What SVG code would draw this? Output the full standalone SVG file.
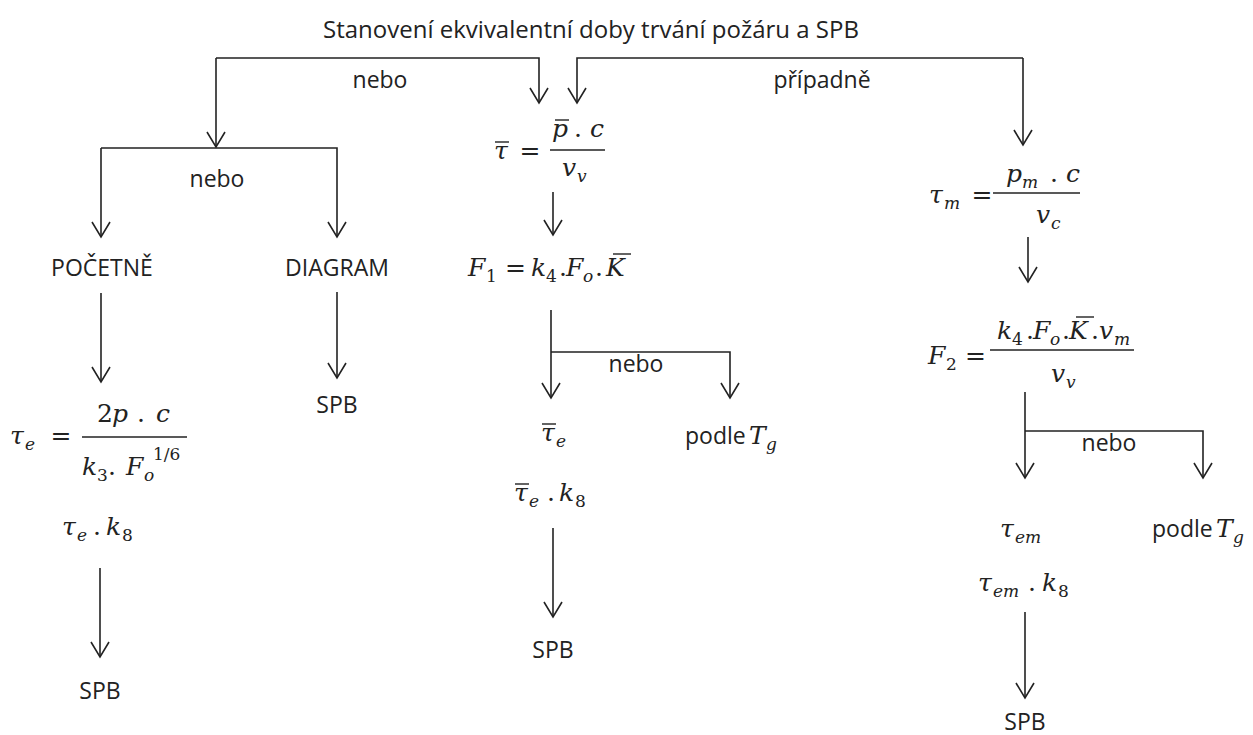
<svg xmlns="http://www.w3.org/2000/svg" width="1253" height="735" viewBox="0 0 1253 735">
<style>
.lbl{font-family:"Open Sans","Liberation Sans",sans-serif;font-size:23px;fill:#222}
.ttl{font-size:24px}
.m{font-family:"DejaVu Serif","Liberation Serif",serif;font-style:italic;font-size:25px;fill:#222}
.u{font-style:normal}
.s{font-size:17px}
.c{stroke:#222;stroke-width:1.6;fill:none;marker-end:url(#arr)}
.fr{stroke:#222;stroke-width:1.4}
.bar{stroke:#222;stroke-width:1.4}
</style>
<defs>
<marker id="arr" viewBox="-17 -11 19 22" refX="0" refY="0" markerWidth="19" markerHeight="22" markerUnits="userSpaceOnUse" orient="auto">
<path d="M-15,-9 L0,0 L-15,9" fill="none" stroke="#222" stroke-width="1.6"/>
</marker>
</defs>
<rect width="1253" height="735" fill="#fff"/>
<g id="connectors">
<path class="c" d="M216,58 H539 V103"/>
<path class="c" d="M216,58 V147"/>
<path class="c" d="M1023,58 H577 V103"/>
<path class="c" d="M1023,58 V145"/>
<path class="c" d="M101,148 H337 V237"/>
<path class="c" d="M101,148 V237"/>
<path class="c" d="M101,293 V382"/>
<path class="c" d="M337,292 V378"/>
<path class="c" d="M100,568 V657"/>
<path class="c" d="M553,192 V235"/>
<path class="c" d="M551,310 V398"/>
<path class="c" d="M551,352 H730 V398"/>
<path class="c" d="M553,528 V617"/>
<path class="c" d="M1028,237 V282"/>
<path class="c" d="M1025,392 V478"/>
<path class="c" d="M1025,431 H1203 V478"/>
<path class="c" d="M1025,612 V698"/>
</g>
<g id="labels">
<text class="lbl" x="380" y="88" text-anchor="middle">nebo</text>
<text class="lbl" x="822" y="88" text-anchor="middle">případně</text>
<text class="lbl" x="217" y="187" text-anchor="middle">nebo</text>
<text class="lbl" x="636" y="372" text-anchor="middle">nebo</text>
<text class="lbl" x="1109" y="451" text-anchor="middle">nebo</text>
</g>
<g id="title"><text class="lbl ttl" x="591" y="38" text-anchor="middle">Stanovení ekvivalentní doby trvání požáru a SPB</text></g>
<g id="n-pocetne"><text class="lbl" x="102" y="276" text-anchor="middle">POČETNĚ</text></g>
<g id="n-diagram"><text class="lbl" x="337" y="276" text-anchor="middle">DIAGRAM</text></g>
<g id="n-spb-diagram"><text class="lbl" x="337" y="413" text-anchor="middle">SPB</text></g>
<g id="n-tau-e">
<text class="m" y="444"><tspan x="10">τ</tspan><tspan class="s" x="25" y="450">e</tspan></text>
<text class="m u" x="61" y="444" text-anchor="middle">=</text>
<line class="fr" x1="82" y1="437" x2="187" y2="437"/>
<text class="m" y="422"><tspan class="u" x="97">2</tspan><tspan x="112">p</tspan><tspan class="u" x="137">.</tspan><tspan x="156">c</tspan></text>
<text class="m" y="475"><tspan x="82">k</tspan><tspan class="u s" x="97" y="481">3</tspan><tspan class="u" x="108" y="475">.</tspan><tspan x="126" y="475">F</tspan><tspan class="s" x="144" y="481">o</tspan><tspan class="u s" x="153" y="460">1/6</tspan></text>
</g>
<g id="n-tau-e-k8">
<text class="m" y="535"><tspan x="62">τ</tspan><tspan class="s" x="77" y="541">e</tspan><tspan class="u" x="93" y="535">.</tspan><tspan x="106" y="535">k</tspan><tspan class="u s" x="122" y="541">8</tspan></text>
</g>
<g id="n-spb-left"><text class="lbl" x="100" y="699" text-anchor="middle">SPB</text></g>
<g id="n-tau-bar">
<text class="m" x="494" y="159">τ</text>
<line class="bar" x1="495" y1="142" x2="509" y2="142"/>
<text class="m u" x="530" y="159" text-anchor="middle">=</text>
<line class="fr" x1="550" y1="150" x2="605" y2="150"/>
<text class="m" y="137"><tspan x="552">p</tspan><tspan class="u" x="574">.</tspan><tspan x="590">c</tspan></text>
<line class="bar" x1="555" y1="120" x2="569" y2="120"/>
<text class="m" y="176"><tspan x="562">v</tspan><tspan class="s" x="577" y="182">v</tspan></text>
</g>
<g id="n-f1">
<text class="m" y="276"><tspan x="468">F</tspan><tspan class="u s" x="486" y="282">1</tspan><tspan class="u" x="505" y="276">=</tspan><tspan x="531" y="276">k</tspan><tspan class="u s" x="546" y="282">4</tspan><tspan class="u" x="559" y="276">.</tspan><tspan x="566" y="276">F</tspan><tspan class="s" x="583" y="282">o</tspan><tspan class="u" x="595" y="276">.</tspan><tspan x="606" y="276">K</tspan></text>
<line class="bar" x1="613" y1="254" x2="631" y2="254"/>
</g>
<g id="n-tau-bar-e">
<text class="m" y="441"><tspan x="541">τ</tspan><tspan class="s" x="556" y="447">e</tspan></text>
<line class="bar" x1="542" y1="424" x2="556" y2="424"/>
</g>
<g id="n-podle-1"><text class="lbl" x="685" y="444">podle</text><text class="m" y="444"><tspan x="749">T</tspan><tspan class="s" x="766" y="450">g</tspan></text></g>
<g id="n-tau-bar-e-k8">
<text class="m" y="501"><tspan x="514">τ</tspan><tspan class="s" x="529" y="507">e</tspan><tspan class="u" x="547" y="501">.</tspan><tspan x="559" y="501">k</tspan><tspan class="u s" x="575" y="507">8</tspan></text>
<line class="bar" x1="515" y1="484" x2="529" y2="484"/>
</g>
<g id="n-spb-center"><text class="lbl" x="553" y="658" text-anchor="middle">SPB</text></g>
<g id="n-tau-m">
<text class="m" y="203"><tspan x="929">τ</tspan><tspan class="s" x="944" y="209">m</tspan></text>
<text class="m u" x="982" y="203" text-anchor="middle">=</text>
<line class="fr" x1="993" y1="193" x2="1080" y2="193"/>
<text class="m" y="182"><tspan x="1006">p</tspan><tspan class="s" x="1022" y="188">m</tspan><tspan class="u" x="1050" y="182">.</tspan><tspan x="1066" y="182">c</tspan></text>
<text class="m" y="223"><tspan x="1036">v</tspan><tspan class="s" x="1051" y="229">c</tspan></text>
</g>
<g id="n-f2">
<text class="m" y="364"><tspan x="928">F</tspan><tspan class="u s" x="946" y="370">2</tspan><tspan class="u" x="965" y="364">=</tspan></text>
<line class="fr" x1="990" y1="350" x2="1134" y2="350"/>
<text class="m" y="339"><tspan x="997">k</tspan><tspan class="u s" x="1012" y="345">4</tspan><tspan class="u" x="1026" y="339">.</tspan><tspan x="1033" y="339">F</tspan><tspan class="s" x="1050" y="345">o</tspan><tspan class="u" x="1062" y="339">.</tspan><tspan x="1069" y="339">K</tspan><tspan class="u" x="1091" y="339">.</tspan><tspan x="1099" y="339">v</tspan><tspan class="s" x="1114" y="345">m</tspan></text>
<line class="bar" x1="1076" y1="317" x2="1094" y2="317"/>
<text class="m" y="382"><tspan x="1051">v</tspan><tspan class="s" x="1066" y="388">v</tspan></text>
</g>
<g id="n-tau-em">
<text class="m" y="537"><tspan x="1000">τ</tspan><tspan class="s" x="1015" y="543">em</tspan></text>
</g>
<g id="n-podle-2"><text class="lbl" x="1152" y="537">podle</text><text class="m" y="537"><tspan x="1216">T</tspan><tspan class="s" x="1233" y="543">g</tspan></text></g>
<g id="n-tau-em-k8">
<text class="m" y="591"><tspan x="978">τ</tspan><tspan class="s" x="993" y="597">em</tspan><tspan class="u" x="1028" y="591">.</tspan><tspan x="1042" y="591">k</tspan><tspan class="u s" x="1058" y="597">8</tspan></text>
</g>
<g id="n-spb-right"><text class="lbl" x="1025" y="730" text-anchor="middle">SPB</text></g>
</svg>
